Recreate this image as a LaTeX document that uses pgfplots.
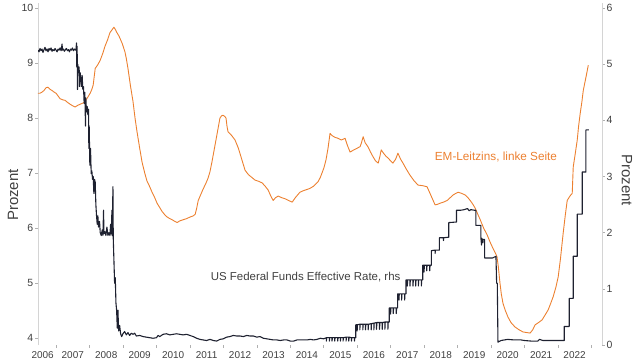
\documentclass[border=0pt]{standalone}
\usepackage{fontspec}
\setmainfont{Liberation Sans}
\usepackage{pgfplots}
\usepackage{pgfplotstable}
\pgfplotsset{compat=1.18}
\definecolor{emorange}{HTML}{EC8030}
\definecolor{usnavy}{HTML}{1E2130}
\definecolor{axgray}{HTML}{D4D4D4}
\definecolor{tickgray}{HTML}{B0B0B0}
\definecolor{txtgray}{HTML}{404040}

\pgfplotstableread{
x y
2006.46 8.45
2006.52 8.45
2006.58 8.47
2006.64 8.50
2006.70 8.55
2006.76 8.56
2006.82 8.52
2006.88 8.50
2006.94 8.47
2007.00 8.45
2007.06 8.40
2007.12 8.35
2007.20 8.33
2007.27 8.32
2007.35 8.28
2007.42 8.25
2007.50 8.22
2007.57 8.20
2007.65 8.23
2007.72 8.25
2007.80 8.27
2007.87 8.30
2007.95 8.38
2008.02 8.45
2008.07 8.52
2008.11 8.60
2008.14 8.75
2008.17 8.90
2008.25 8.97
2008.32 9.05
2008.40 9.18
2008.46 9.30
2008.54 9.42
2008.61 9.55
2008.67 9.60
2008.73 9.65
2008.78 9.60
2008.82 9.55
2008.87 9.50
2008.91 9.45
2008.98 9.35
2009.06 9.20
2009.10 9.08
2009.15 8.90
2009.22 8.60
2009.30 8.30
2009.36 8.00
2009.42 7.75
2009.50 7.45
2009.57 7.20
2009.65 7.00
2009.72 6.85
2009.80 6.75
2009.87 6.65
2009.95 6.55
2010.02 6.45
2010.10 6.37
2010.17 6.30
2010.25 6.24
2010.32 6.20
2010.40 6.17
2010.47 6.15
2010.55 6.12
2010.62 6.10
2010.70 6.13
2010.80 6.15
2010.90 6.17
2011.01 6.20
2011.10 6.22
2011.16 6.25
2011.20 6.35
2011.25 6.50
2011.32 6.60
2011.39 6.70
2011.47 6.80
2011.54 6.90
2011.60 7.02
2011.66 7.20
2011.72 7.40
2011.78 7.60
2011.84 7.80
2011.90 8.00
2011.95 8.04
2011.99 8.05
2012.04 8.03
2012.08 8.00
2012.11 7.85
2012.14 7.75
2012.25 7.68
2012.35 7.60
2012.45 7.45
2012.55 7.25
2012.65 7.05
2012.75 6.97
2012.85 6.92
2012.95 6.87
2013.05 6.85
2013.16 6.82
2013.25 6.76
2013.34 6.69
2013.42 6.58
2013.49 6.50
2013.56 6.55
2013.64 6.58
2013.75 6.55
2013.85 6.53
2013.95 6.50
2014.06 6.47
2014.15 6.55
2014.22 6.60
2014.29 6.65
2014.40 6.68
2014.50 6.70
2014.59 6.72
2014.70 6.76
2014.83 6.84
2014.90 6.92
2014.95 7.00
2015.01 7.10
2015.07 7.24
2015.13 7.45
2015.19 7.72
2015.25 7.68
2015.33 7.65
2015.43 7.63
2015.53 7.60
2015.64 7.63
2015.71 7.50
2015.79 7.38
2015.90 7.42
2016.00 7.45
2016.09 7.48
2016.13 7.55
2016.18 7.66
2016.24 7.55
2016.33 7.47
2016.40 7.38
2016.48 7.29
2016.55 7.22
2016.63 7.18
2016.68 7.30
2016.72 7.42
2016.80 7.35
2016.87 7.30
2016.93 7.27
2017.00 7.22
2017.07 7.18
2017.15 7.25
2017.22 7.36
2017.30 7.25
2017.37 7.18
2017.47 7.07
2017.58 6.96
2017.70 6.86
2017.82 6.78
2017.95 6.77
2018.09 6.75
2018.20 6.60
2018.33 6.42
2018.40 6.43
2018.48 6.45
2018.58 6.47
2018.69 6.50
2018.78 6.55
2018.87 6.60
2018.95 6.63
2019.02 6.65
2019.12 6.63
2019.23 6.60
2019.30 6.56
2019.38 6.50
2019.45 6.44
2019.53 6.36
2019.60 6.26
2019.68 6.15
2019.78 6.00
2019.89 5.87
2019.97 5.75
2020.06 5.63
2020.12 5.56
2020.18 5.48
2020.22 5.30
2020.27 5.00
2020.31 4.80
2020.36 4.63
2020.43 4.50
2020.51 4.38
2020.60 4.28
2020.72 4.20
2020.84 4.15
2020.96 4.11
2021.06 4.10
2021.17 4.09
2021.25 4.15
2021.32 4.24
2021.42 4.28
2021.53 4.33
2021.62 4.42
2021.71 4.51
2021.78 4.62
2021.86 4.75
2021.94 4.92
2022.01 5.11
2022.08 5.45
2022.16 5.91
2022.22 6.22
2022.28 6.50
2022.36 6.58
2022.43 6.63
2022.46 7.11
2022.52 7.35
2022.58 7.60
2022.62 7.85
2022.67 8.09
2022.72 8.30
2022.76 8.50
2022.80 8.62
2022.86 8.80
2022.91 8.96
}\emtable

\pgfplotstableread{
x y
2006.46 5.25
2006.49 5.22
2006.52 5.28
2006.55 5.24
2006.58 5.27
2006.61 5.21
2006.64 5.26
2006.67 5.30
2006.70 5.24
2006.73 5.27
2006.76 5.22
2006.79 5.28
2006.82 5.25
2006.85 5.29
2006.88 5.23
2006.91 5.26
2006.94 5.24
2006.97 5.28
2007.00 5.25
2007.03 5.22
2007.06 5.27
2007.09 5.25
2007.12 5.29
2007.15 5.24
2007.18 5.36
2007.19 5.25
2007.22 5.27
2007.25 5.23
2007.28 5.26
2007.31 5.28
2007.34 5.24
2007.37 5.26
2007.40 5.22
2007.43 5.27
2007.46 5.25
2007.49 5.29
2007.52 5.24
2007.55 5.27
2007.58 5.25
2007.60 5.28
2007.61 5.38
2007.62 4.95
2007.63 5.32
2007.64 4.55
2007.65 5.00
2007.67 4.85
2007.69 4.95
2007.70 4.60
2007.72 4.85
2007.74 4.75
2007.76 4.60
2007.78 4.80
2007.80 4.55
2007.82 4.60
2007.84 4.30
2007.86 4.50
2007.88 3.90
2007.89 4.40
2007.91 4.15
2007.93 4.25
2007.95 4.10
2007.97 4.20
2007.98 3.50
2007.99 3.90
2008.01 3.20
2008.03 3.50
2008.05 3.05
2008.07 3.10
2008.09 2.95
2008.11 3.00
2008.13 2.70
2008.15 2.95
2008.17 2.90
2008.19 2.50
2008.21 2.30
2008.23 2.15
2008.25 2.30
2008.27 2.10
2008.30 2.20
2008.32 2.00
2008.35 1.95
2008.38 2.05
2008.40 1.95
2008.42 2.40
2008.43 1.98
2008.46 2.02
2008.49 1.95
2008.52 2.10
2008.55 1.95
2008.58 2.00
2008.61 1.95
2008.63 2.15
2008.65 1.98
2008.67 2.40
2008.68 1.95
2008.70 2.82
2008.71 1.90
2008.73 1.50
2008.75 1.10
2008.77 1.20
2008.79 0.75
2008.81 0.62
2008.83 0.30
2008.85 0.62
2008.87 0.25
2008.90 0.35
2008.93 0.20
2008.96 0.15
2009.00 0.20
2009.05 0.24
2009.10 0.18
2009.15 0.22
2009.20 0.17
2009.25 0.21
2009.30 0.19
2009.35 0.21
2009.40 0.16
2009.50 0.17
2009.60 0.15
2009.70 0.14
2009.80 0.13
2009.90 0.12
2010.00 0.13
2010.05 0.17
2010.10 0.15
2010.20 0.19
2010.30 0.20
2010.40 0.18
2010.50 0.19
2010.60 0.20
2010.70 0.19
2010.80 0.18
2010.90 0.19
2011.00 0.17
2011.10 0.15
2011.20 0.12
2011.30 0.10
2011.40 0.09
2011.50 0.08
2011.60 0.10
2011.70 0.08
2011.80 0.07
2011.90 0.10
2012.00 0.11
2012.10 0.14
2012.20 0.15
2012.30 0.17
2012.40 0.16
2012.50 0.16
2012.60 0.15
2012.70 0.17
2012.80 0.16
2012.90 0.16
2013.00 0.14
2013.10 0.15
2013.20 0.12
2013.30 0.11
2013.40 0.10
2013.50 0.09
2013.60 0.09
2013.70 0.08
2013.80 0.09
2013.90 0.09
2014.00 0.07
2014.10 0.07
2014.20 0.09
2014.30 0.09
2014.40 0.09
2014.50 0.09
2014.60 0.10
2014.70 0.09
2014.80 0.10
2014.90 0.12
2015.00 0.11
2015.08 0.13
2015.08 0.07
2015.09 0.13
2015.17 0.13
2015.17 0.07
2015.18 0.13
2015.25 0.13
2015.25 0.07
2015.26 0.13
2015.33 0.13
2015.33 0.07
2015.34 0.13
2015.42 0.13
2015.42 0.07
2015.43 0.13
2015.50 0.13
2015.50 0.07
2015.51 0.13
2015.58 0.13
2015.58 0.07
2015.59 0.13
2015.67 0.14
2015.67 0.07
2015.68 0.14
2015.75 0.14
2015.75 0.07
2015.76 0.14
2015.83 0.13
2015.83 0.07
2015.84 0.13
2015.92 0.13
2015.92 0.07
2015.93 0.13
2015.96 0.13
2015.96 0.36
2016.00 0.36
2016.00 0.25
2016.01 0.36
2016.08 0.37
2016.08 0.27
2016.09 0.37
2016.17 0.37
2016.17 0.27
2016.18 0.37
2016.25 0.37
2016.25 0.27
2016.26 0.37
2016.33 0.37
2016.33 0.27
2016.34 0.37
2016.42 0.38
2016.42 0.27
2016.43 0.38
2016.50 0.39
2016.50 0.27
2016.51 0.39
2016.58 0.40
2016.58 0.28
2016.59 0.40
2016.67 0.40
2016.67 0.28
2016.68 0.40
2016.75 0.40
2016.75 0.28
2016.76 0.40
2016.83 0.41
2016.83 0.28
2016.84 0.41
2016.92 0.41
2016.92 0.28
2016.93 0.41
2016.96 0.41
2016.96 0.66
2017.00 0.66
2017.00 0.55
2017.01 0.66
2017.08 0.66
2017.08 0.56
2017.09 0.66
2017.17 0.66
2017.17 0.56
2017.18 0.66
2017.21 0.66
2017.21 0.91
2017.25 0.91
2017.25 0.80
2017.26 0.91
2017.33 0.91
2017.33 0.80
2017.34 0.91
2017.42 0.91
2017.42 0.80
2017.43 0.91
2017.46 0.91
2017.46 1.16
2017.50 1.16
2017.50 1.05
2017.51 1.16
2017.58 1.16
2017.58 1.05
2017.59 1.16
2017.67 1.16
2017.67 1.05
2017.68 1.16
2017.75 1.16
2017.75 1.05
2017.76 1.16
2017.83 1.16
2017.83 1.05
2017.84 1.16
2017.92 1.16
2017.92 1.05
2017.93 1.16
2017.96 1.16
2017.96 1.42
2018.00 1.42
2018.00 1.30
2018.01 1.42
2018.08 1.42
2018.08 1.32
2018.09 1.42
2018.17 1.42
2018.17 1.32
2018.18 1.42
2018.22 1.42
2018.22 1.68
2018.33 1.69
2018.33 1.63
2018.34 1.69
2018.46 1.69
2018.46 1.91
2018.58 1.91
2018.58 1.86
2018.59 1.91
2018.74 1.92
2018.74 2.18
2018.97 2.19
2018.97 2.40
2019.10 2.40
2019.20 2.41
2019.30 2.43
2019.35 2.39
2019.40 2.41
2019.50 2.40
2019.55 2.40
2019.55 2.13
2019.70 2.13
2019.70 1.90
2019.72 1.78
2019.73 1.90
2019.76 1.82
2019.77 1.88
2019.81 1.88
2019.81 1.55
2019.95 1.55
2020.05 1.55
2020.15 1.58
2020.17 1.10
2020.19 1.10
2020.21 0.05
2020.30 0.08
2020.40 0.09
2020.50 0.10
2020.70 0.09
2020.90 0.09
2021.00 0.08
2021.20 0.07
2021.40 0.07
2021.45 0.10
2021.55 0.08
2021.80 0.08
2022.00 0.08
2022.19 0.08
2022.19 0.33
2022.34 0.33
2022.34 0.83
2022.46 0.83
2022.46 1.58
2022.58 1.58
2022.58 2.33
2022.73 2.33
2022.73 3.08
2022.84 3.08
2022.84 3.83
2022.93 3.83
}\ustable

\begin{document}
\begin{tikzpicture}
\path[use as bounding box] (-38bp,-19bp) rectangle (602bp,345bp);
\pgfplotsset{
  common/.style={
    at={(0,0)}, anchor=south west,
    scale only axis, width=564bp, height=342bp,
    xmin=2006.46, xmax=2023.32,
    tick align=outside,
    major tick length=3bp, minor tick length=3bp,
    tick style={tickgray, line width=0.5bp},
    axis line style={axgray, line width=0.6bp, -},
    /pgf/number format/assume math mode=true,
    yticklabel style={txtgray, font=\fontsize{10.5}{12}\selectfont, inner sep=1.5bp},
    xticklabel style={txtgray, font=\fontsize{10}{12}\selectfont},
    ylabel style={txtgray, font=\fontsize{15}{17}\selectfont},
  }
}
\begin{axis}[common,
  ymin=3.873, ymax=10.09,
  axis y line*=left, axis x line*=bottom,
  x axis line style={draw=none},
  ytick={4,5,6,7,8,9,10},
  xtick={2006.6,2007.5,2008.5,2009.5,2010.5,2011.5,2012.5,2013.5,2014.5,2015.5,2016.5,2017.5,2018.5,2019.5,2020.5,2021.5,2022.5},
  xticklabels={2006,2007,2008,2009,2010,2011,2012,2013,2014,2015,2016,2017,2018,2019,2020,2021,2022},
  minor xtick={2007,2008,2009,2010,2011,2012,2013,2014,2015,2016,2017,2018,2019,2020,2021,2022,2023},
  major x tick style={draw=none},
  ylabel={Prozent},
  ylabel style={at={(axis description cs:-0.0443,0.4386)}, anchor=center},
  clip=false,
]
\addplot[emorange, line width=0.9bp, line join=round] table[x=x,y=y] {\emtable};
\node[emorange, font=\fontsize{11.8}{14}\selectfont] at (axis cs:2020.15,7.29) {EM-Leitzins, linke Seite};
\node[txtgray, font=\fontsize{11.5}{14}\selectfont] at (axis cs:2014.46,5.11) {US Federal Funds Effective Rate, rhs};
\end{axis}
\begin{axis}[common,
  ymin=0, ymax=6.09,
  axis y line*=right, axis x line=none,
  ytick={0,1,2,3,4,5,6},
  ylabel={Prozent},
  ylabel style={at={(axis description cs:1.0443,0.482)}, anchor=center, rotate=180},
]
\addplot[usnavy, line width=1.1bp, line join=round] table[x=x,y=y] {\ustable};
\end{axis}
\end{tikzpicture}
\end{document}
